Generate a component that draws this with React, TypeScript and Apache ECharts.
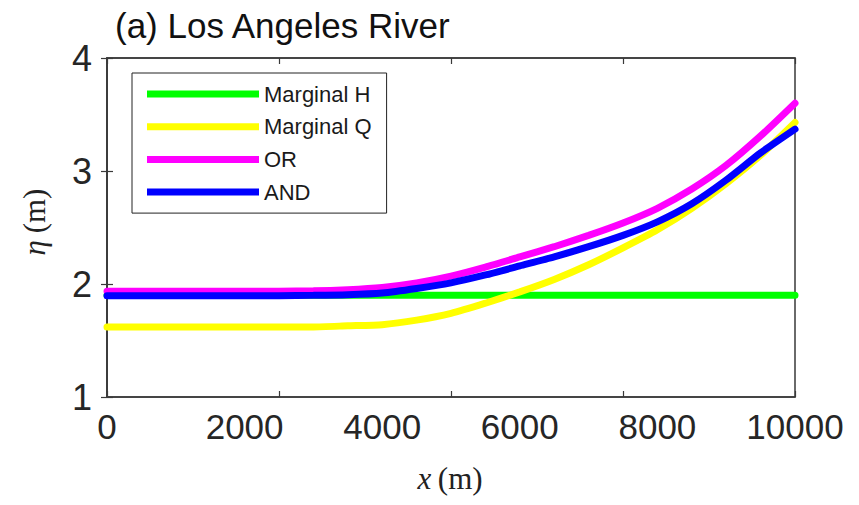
import React, { useEffect, useRef } from "react";
import * as echarts from "echarts";

const xValues = [0, 1000, 2000, 3000, 3500, 4000, 4500, 5000, 5500, 6000, 6500, 7000, 7500, 8000, 8500, 9000, 9500, 10000];
const marginalH = [1.9, 1.9, 1.9, 1.9, 1.9, 1.9, 1.9, 1.9, 1.9, 1.9, 1.9, 1.9, 1.9, 1.9, 1.9, 1.9, 1.9, 1.9];
const marginalQ = [1.62, 1.62, 1.62, 1.62, 1.63, 1.64, 1.68, 1.74, 1.83, 1.93, 2.04, 2.17, 2.32, 2.48, 2.67, 2.89, 3.14, 3.43];
const orValues = [1.935, 1.935, 1.935, 1.94, 1.95, 1.97, 2.01, 2.07, 2.15, 2.24, 2.33, 2.43, 2.54, 2.67, 2.84, 3.05, 3.31, 3.6];
const andValues = [1.895, 1.895, 1.895, 1.9, 1.905, 1.92, 1.96, 2.01, 2.08, 2.16, 2.24, 2.33, 2.43, 2.55, 2.71, 2.92, 3.16, 3.37];
const seriesNames = ["Marginal H", "Marginal Q", "OR", "AND"];
const seriesColors = ["#00ff00", "#ffff00", "#ff00ff", "#0000ff"];
const seriesValues = [marginalH, marginalQ, orValues, andValues];
const titleText = "(a) Los Angeles River";

const SANS = "'Liberation Sans', Arial, Helvetica, sans-serif";
const SERIF = "'Liberation Serif', 'DejaVu Serif', serif";

export default function App() {
  const ref = useRef<HTMLDivElement>(null);
  useEffect(() => {
    document.body.style.margin = "0";
    if (!ref.current) return;
    const chart = echarts.init(ref.current, undefined, { renderer: "svg" });
    const axisColor = "#3a3a3a";
    const labelColor = "#262626";
    const tickStyle = { show: true, inside: true, length: 6, lineStyle: { color: axisColor, width: 1.2 } };
    chart.setOption({
      animation: false,
      backgroundColor: "#ffffff",
      grid: {
        left: 107,
        top: 58,
        width: 688,
        height: 339,
        show: true,
        borderColor: axisColor,
        borderWidth: 1.5,
        backgroundColor: "transparent",
      },
      legend: {
        show: true,
        orient: "vertical",
        left: 132,
        top: 73,
        data: seriesNames,
        icon: "rect",
        itemWidth: 112,
        itemHeight: 7,
        itemGap: 6.7,
        itemStyle: { borderWidth: 0 },
        padding: [8, 15, 8, 15],
        borderColor: "#222",
        borderWidth: 1,
        backgroundColor: "#ffffff",
        textStyle: { fontFamily: SANS, fontSize: 22, color: "#1a1a1a", lineHeight: 26, padding: [0, 0, 0, 0] },
        selectedMode: false,
      },
      graphic: [
        {
          type: "text",
          x: 115,
          y: 25,
          style: { text: titleText, fontFamily: SANS, fontSize: 35, fill: "#111", align: "left", verticalAlign: "middle" },
        },
        {
          type: "text",
          x: 450,
          y: 478,
          style: {
            text: "{i|x}  {r|(m)}",
            align: "center",
            verticalAlign: "middle",
            rich: {
              i: { fontFamily: SERIF, fontStyle: "italic", fontSize: 31, fill: "#222" },
              r: { fontFamily: SERIF, fontSize: 31, fill: "#222" },
            },
          },
        },
        {
          type: "text",
          x: 34,
          y: 222,
          rotation: Math.PI / 2,
          style: {
            text: "{i|η}  {r|(m)}",
            align: "center",
            verticalAlign: "middle",
            rich: {
              i: { fontFamily: SERIF, fontStyle: "italic", fontSize: 31, fill: "#222" },
              r: { fontFamily: SERIF, fontSize: 31, fill: "#222" },
            },
          },
        },
      ],
      xAxis: [
        {
          type: "value",
          min: 0,
          max: 10000,
          interval: 2000,
          position: "bottom",
          axisLine: { show: true, lineStyle: { color: axisColor, width: 1.5 } },
          axisTick: { show: false },
          splitLine: { show: false },
          axisLabel: {
            show: true,
            fontFamily: SANS,
            fontSize: 35,
            color: labelColor,
            margin: 12,
            formatter: (v: number) => String(v),
          },
        },
        {
          type: "value",
          min: 0,
          max: 10000,
          interval: 2500,
          position: "bottom",
          axisLine: { show: false },
          axisTick: tickStyle,
          splitLine: { show: false },
          axisLabel: { show: false },
        },
        {
          type: "value",
          min: 0,
          max: 10000,
          interval: 2500,
          position: "top",
          axisLine: { show: true, lineStyle: { color: axisColor, width: 1.5 } },
          axisTick: tickStyle,
          splitLine: { show: false },
          axisLabel: { show: false },
        },
      ],
      yAxis: [
        {
          type: "value",
          min: 1,
          max: 4,
          interval: 1,
          position: "left",
          axisLine: { show: true, lineStyle: { color: axisColor, width: 1.5 } },
          axisTick: tickStyle,
          splitLine: { show: false },
          axisLabel: { show: true, fontFamily: SANS, fontSize: 36, color: labelColor, margin: 15 },
        },
        {
          type: "value",
          min: 1,
          max: 4,
          interval: 1,
          position: "right",
          axisLine: { show: true, lineStyle: { color: axisColor, width: 1.5 } },
          axisTick: tickStyle,
          splitLine: { show: false },
          axisLabel: { show: false },
        },
      ],
      series: seriesNames.map((name, i) => ({
        name,
        type: "line",
        xAxisIndex: 0,
        yAxisIndex: 0,
        data: xValues.map((x, j) => [x, seriesValues[i][j]]),
        showSymbol: false,
        symbol: "none",
        smooth: 0.2,
        lineStyle: { color: seriesColors[i], width: 7, cap: "round" },
        itemStyle: { color: seriesColors[i] },
        z: 2 + i,
      })),
    });
    return () => chart.dispose();
  }, []);
  return <div ref={ref} style={{ width: 859, height: 505 }} />;
}
